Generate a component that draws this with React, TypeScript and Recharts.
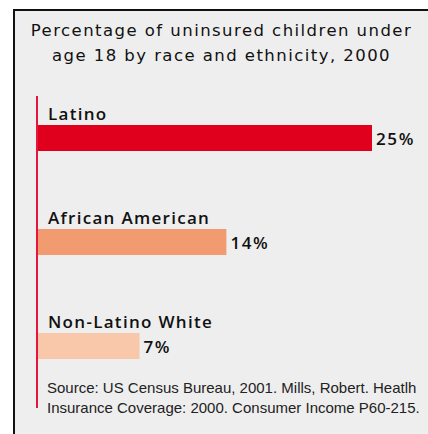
import React from 'react';
import { BarChart, Bar, XAxis, YAxis, Cell, LabelList, ReferenceLine } from 'recharts';

const groups = ['Latino', 'African American', 'Non-Latino White'];
const uninsured = [25, 14.1, 7.6];
const shownLabels = ['25%', '14%', '7%'];
const colors = ['#e0001e', '#f29a70', '#f9c8aa'];

const data = groups.map((name, i) => ({ name, value: uninsured[i], label: shownLabels[i] }));

const font = "'Open Sans', sans-serif";

const NameLabel = (props: any) => {
    const { x, y, value } = props;
    return (
        <text x={x + 10} y={y - 5} fontSize={17} fontWeight={600} letterSpacing={1.3} fill="#111" fontFamily={font}>
            {value}
        </text>
    );
};

const ValueLabel = (props: any) => {
    const { x, y, width, height, index } = props;
    return (
        <text x={x + width + 4} y={y + height / 2} dominantBaseline="central" fontSize={17} fontWeight={600} letterSpacing={1.6} fill="#111" fontFamily={font}>
            {data[index].label}
        </text>
    );
};

const RedLine = (props: any) => {
    const { x1, y1, y2 } = props;
    return <line x1={x1 - 1} x2={x1 - 1} y1={y1 + 10} y2={y2 + 10} stroke="#e4163c" strokeWidth={2} />;
};

const App = () => {
    return (
        <div style={{ position: 'absolute', left: 0, top: 0, width: 428, height: 434, background: '#fff', overflow: 'hidden' }}>
            <div style={{ position: 'absolute', left: 13, top: 9, width: 430, height: 440, borderTop: '2px solid #111', borderLeft: '2px solid #111', background: '#eeeeee' }} />
            <div style={{ position: 'absolute', left: 15, top: 18, width: 413, textAlign: 'center', fontFamily: "'DejaVu Sans', sans-serif", fontSize: 16.5, letterSpacing: 1.45, lineHeight: '25px', color: '#111', whiteSpace: 'nowrap' }}>
                Percentage of uninsured children under<br />age 18 by race and ethnicity, 2000
            </div>
            <div style={{ position: 'absolute', left: 47, top: 378, fontFamily: "'Liberation Sans Narrow', sans-serif", fontSize: 15, lineHeight: '20px', color: '#222', whiteSpace: 'nowrap' }}>
                Source: US Census Bureau, 2001. Mills, Robert. Heatlh<br />Insurance Coverage: 2000. Consumer Income P60-215.
            </div>
            <div style={{ position: 'absolute', left: 0, top: 0 }}>
                <BarChart width={428} height={434} data={data} layout="vertical" margin={{ top: 86, bottom: 36, left: 38, right: 56 }}>
                    <XAxis type="number" domain={[0, 25]} hide />
                    <YAxis type="category" dataKey="name" hide />
                    <ReferenceLine x={0} shape={<RedLine />} />
                    <Bar dataKey="value" barSize={26} isAnimationActive={false}>
                        {data.map((d, i) => (
                            <Cell key={d.name} fill={colors[i]} />
                        ))}
                        <LabelList dataKey="name" content={<NameLabel />} />
                        <LabelList dataKey="label" content={<ValueLabel />} />
                    </Bar>
                </BarChart>
            </div>
        </div>
    );
};

export default App;
